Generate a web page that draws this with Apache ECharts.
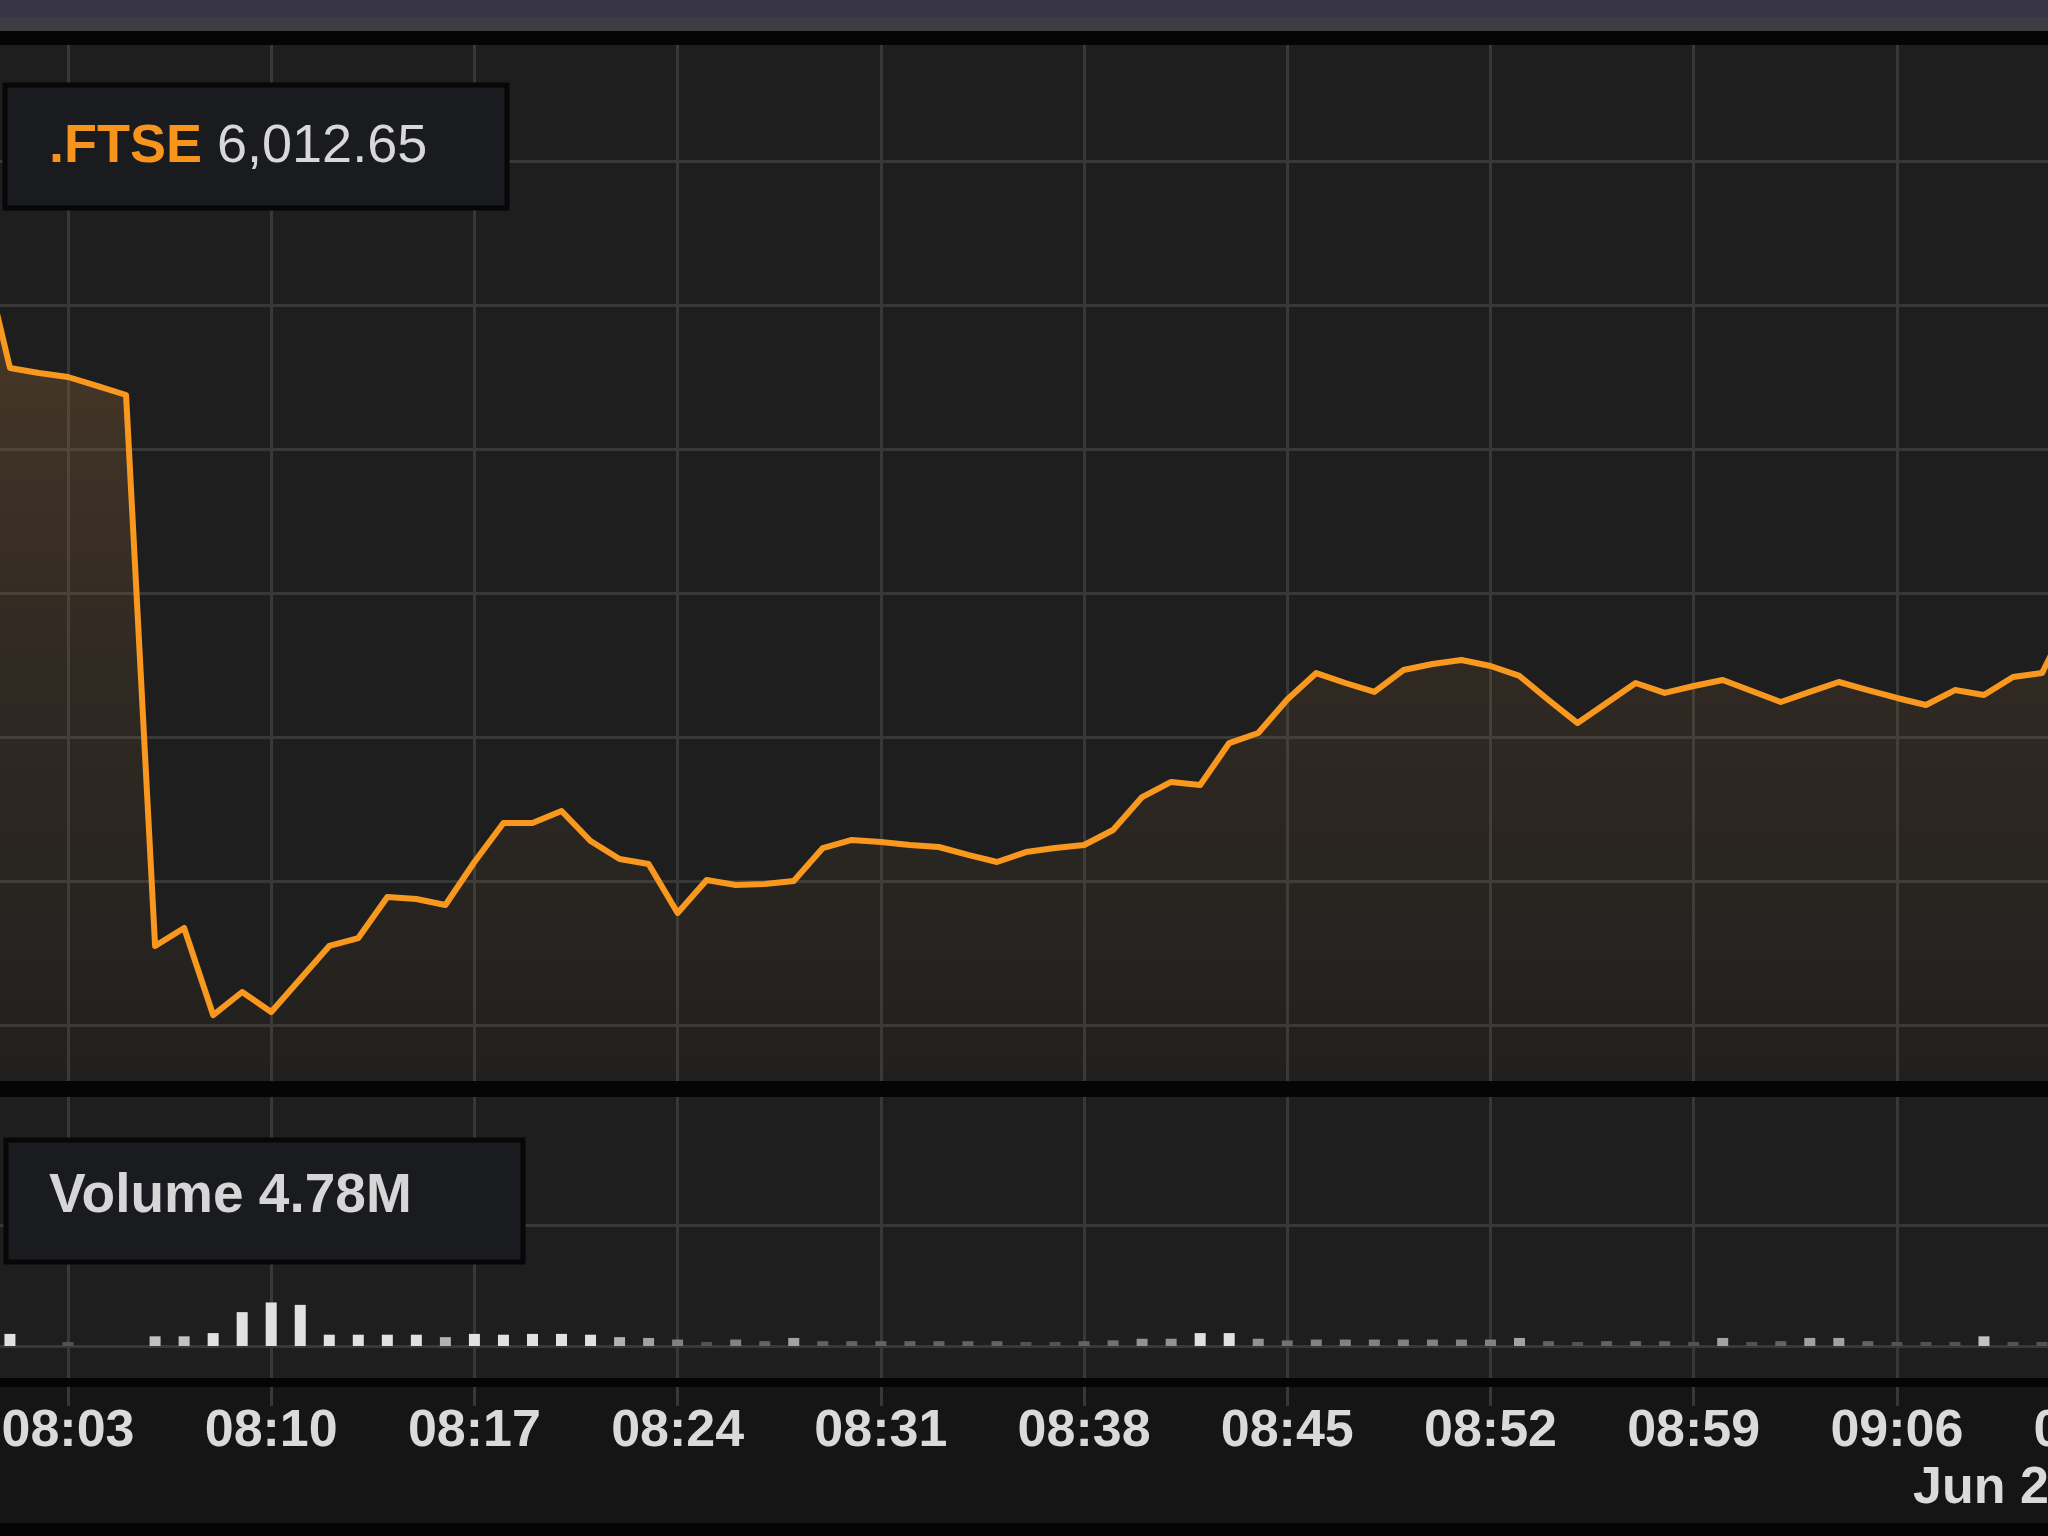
<!DOCTYPE html>
<html>
<head>
<meta charset="utf-8">
<script src="https://cdn.jsdelivr.net/npm/echarts@6/dist/echarts.min.js"></script>
<style>
html,body{margin:0;padding:0;background:#151515;}
#chart{width:2048px;height:1536px;}
</style>
</head>
<body>
<div id="chart"></div>
<script>
// ---------------- DATA ----------------
const times = [
  '08:00','08:01','08:02','08:03','08:04','08:05','08:06','08:07','08:08','08:09',
  '08:10','08:11','08:12','08:13','08:14','08:15','08:16','08:17','08:18','08:19',
  '08:20','08:21','08:22','08:23','08:24','08:25','08:26','08:27','08:28','08:29',
  '08:30','08:31','08:32','08:33','08:34','08:35','08:36','08:37','08:38','08:39',
  '08:40','08:41','08:42','08:43','08:44','08:45','08:46','08:47','08:48','08:49',
  '08:50','08:51','08:52','08:53','08:54','08:55','08:56','08:57','08:58','08:59',
  '09:00','09:01','09:02','09:03','09:04','09:05','09:06','09:07','09:08','09:09',
  '09:10','09:11','09:12'
];
const prices = [
  6241.0, 6156.3, 6152.8, 6150.0, 6143.8, 6137.5, 5754.9, 5767.4, 5706.9, 5722.9,
  5709.0, 5731.9, 5754.9, 5760.4, 5788.9, 5787.5, 5783.3, 5813.2, 5840.3, 5840.3,
  5848.6, 5827.8, 5815.3, 5811.8, 5777.8, 5800.7, 5797.2, 5797.9, 5800.0, 5822.9,
  5828.5, 5827.1, 5825.0, 5823.6, 5818.1, 5813.2, 5820.1, 5822.9, 5825.0, 5835.4,
  5858.3, 5868.8, 5866.7, 5895.8, 5902.8, 5926.0, 5944.4, 5937.5, 5931.3, 5946.5,
  5950.7, 5953.5, 5949.3, 5942.4, 5925.7, 5909.7, 5923.6, 5937.5, 5930.6, 5935.4,
  5939.6, 5931.9, 5924.3, 5931.3, 5938.2, 5932.6, 5927.1, 5922.2, 5932.6, 5929.2,
  5941.7, 5944.4, 5984.7
];
// volume per minute, millions of shares (null = no print)
const volumes = [
  null, 1.5, null, 0.5, null, null, 1.2, 1.2, 1.6, 4.2,
  5.4, 5.1, 1.4, 1.4, 1.4, 1.4, 1.1, 1.5, 1.4, 1.5,
  1.5, 1.4, 1.1, 1.0, 0.8, 0.5, 0.8, 0.6, 1.0, 0.6,
  0.6, 0.6, 0.6, 0.6, 0.6, 0.6, 0.5, 0.5, 0.6, 0.7,
  0.9, 0.9, 1.6, 1.6, 0.9, 0.7, 0.8, 0.8, 0.8, 0.8,
  0.8, 0.8, 0.8, 1.0, 0.6, 0.5, 0.6, 0.6, 0.6, 0.5,
  1.0, 0.5, 0.6, 1.0, 1.0, 0.6, 0.5, 0.5, 0.5, 1.2,
  0.5, 0.5, null
];
const tickLabels = ['08:03','08:10','08:17','08:24','08:31','08:38','08:45','08:52','08:59','09:06','09:13'];
const dateLabel = 'Jun 24';
const symbolName = '.FTSE';
const lastPrice = '6,012.65';
const volumeName = 'Volume';
const lastVolume = '4.78M';
const priceGrid = { min: 5700, max: 6300, step: 100 };
const volumeGrid = { min: 0, max: 15, step: 15 };

// ---------------- LAYOUT ----------------
const W = 2048;
const toMin = t => { const [h, m] = t.split(':').map(Number); return (h - 8) * 60 + m; };
const tickMin = toMin(tickLabels[0]);
const tickMax = toMin(tickLabels[tickLabels.length - 1]);
const tickStep = toMin(tickLabels[1]) - tickMin;
const FIRST_TICK_X = 68;
const PX_PER_MIN = 29.03;
const X0 = tickMin - FIRST_TICK_X / PX_PER_MIN;
const X1 = X0 + W / PX_PER_MIN;
const vGridWidth = (tickMax - tickMin) * PX_PER_MIN;

// price panel
const PANEL_TOP = 45, PANEL_BOTTOM = 1081;
const HGRID_TOP = 161, HGRID_BOTTOM = 1025;
const PX_PER_PT = (HGRID_BOTTOM - HGRID_TOP) / (priceGrid.max - priceGrid.min);
const P0 = priceGrid.min - (PANEL_BOTTOM - HGRID_BOTTOM) / PX_PER_PT;
const P1 = priceGrid.max + (HGRID_TOP - PANEL_TOP) / PX_PER_PT;

// volume panel
const VPANEL_TOP = 1097, VPANEL_BOTTOM = 1378;
const VGRID_TOP = 1225, VGRID_BOTTOM = 1346;

const FONT = '"Liberation Sans", Arial, Helvetica, sans-serif';
const GRID_COLOR = '#383838';
const LINE_COLOR = '#f8981f';

const priceData = times.map((t, i) => [toMin(t), prices[i]]);
const volumeData = times.map((t, i) => [toMin(t), volumes[i]]);

const chart = echarts.init(document.getElementById('chart'), null, { renderer: 'canvas' });

const hiddenAxis = (gi, min, max) => ({ gridIndex: gi, type: 'value', min, max, show: false });
const gridBase = { outerBoundsMode: 'none', containLabel: false };

const option = {
  animation: false,
  backgroundColor: '#151515',
  grid: [
    Object.assign({ left: 0, width: W, top: PANEL_TOP, height: PANEL_BOTTOM - PANEL_TOP }, gridBase),
    Object.assign({ left: 0, width: W, top: HGRID_TOP, height: HGRID_BOTTOM - HGRID_TOP }, gridBase),
    Object.assign({ left: FIRST_TICK_X, width: vGridWidth, top: PANEL_TOP, height: VPANEL_BOTTOM - PANEL_TOP }, gridBase),
    Object.assign({ left: 0, width: W, top: VGRID_TOP, height: VGRID_BOTTOM - VGRID_TOP }, gridBase)
  ],
  xAxis: [
    hiddenAxis(0, X0, X1),
    hiddenAxis(1, X0, X1),
    {
      gridIndex: 2, type: 'value', min: tickMin, max: tickMax, interval: tickStep,
      axisLine: { show: false },
      axisTick: { show: true, length: 28, lineStyle: { color: GRID_COLOR, width: 3 } },
      splitLine: { show: true, lineStyle: { color: GRID_COLOR, width: 3 } },
      axisLabel: {
        show: true, showMinLabel: true, showMaxLabel: true, hideOverlap: false,
        margin: 28, color: '#dadada', fontSize: 52, fontWeight: 'bold', fontFamily: FONT,
        formatter: v => {
          const i = tickLabels.findIndex(l => toMin(l) === Math.round(v));
          return i >= 0 ? tickLabels[i] : '';
        }
      }
    },
    hiddenAxis(3, X0, X1)
  ],
  yAxis: [
    hiddenAxis(0, P0, P1),
    {
      gridIndex: 1, type: 'value', min: priceGrid.min, max: priceGrid.max, interval: priceGrid.step,
      axisLine: { show: false }, axisTick: { show: false }, axisLabel: { show: false },
      splitLine: { show: true, lineStyle: { color: GRID_COLOR, width: 3 } }
    },
    hiddenAxis(2, 0, 1),
    {
      gridIndex: 3, type: 'value', min: volumeGrid.min, max: volumeGrid.max, interval: volumeGrid.step,
      axisLine: { show: false }, axisTick: { show: false }, axisLabel: { show: false },
      splitLine: { show: true, lineStyle: { color: GRID_COLOR, width: 3 } }
    }
  ],
  series: [
    {
      type: 'line', xAxisIndex: 0, yAxisIndex: 0, data: priceData,
      showSymbol: false, symbol: 'none', clip: true,
      lineStyle: { color: LINE_COLOR, width: 6, join: 'round', cap: 'round' },
      areaStyle: {
        origin: 'start',
        color: new echarts.graphic.LinearGradient(0, 0, 0, 1, [
          { offset: 0, color: 'rgba(160,110,60,0.50)' },
          { offset: 0.5, color: 'rgba(150,105,60,0.22)' },
          { offset: 1, color: 'rgba(150,105,60,0.04)' }
        ])
      },
      z: 3
    },
    {
      type: 'bar', xAxisIndex: 3, yAxisIndex: 3, data: volumeData,
      barWidth: 11, clip: true,
      itemStyle: {
        color: p => {
          const v = p.value[1];
          const t = Math.min(1, Math.max(0, (v - 0.45) / (1.4 - 0.45)));
          const g = Math.round(75 + t * (225 - 75));
          return 'rgb(' + g + ',' + g + ',' + g + ')';
        }
      },
      z: 3
    }
  ],
  graphic: [
    { type: 'rect', z: -10, silent: true, shape: { x: 0, y: PANEL_TOP, width: W, height: PANEL_BOTTOM - PANEL_TOP }, style: { fill: '#1e1e1e' } },
    { type: 'rect', z: -10, silent: true, shape: { x: 0, y: VPANEL_TOP, width: W, height: VPANEL_BOTTOM - VPANEL_TOP }, style: { fill: '#1e1e1e' } },
    { type: 'rect', z: 50, silent: true, shape: { x: 0, y: 0, width: W, height: 17 }, style: { fill: '#383646' } },
    { type: 'rect', z: 50, silent: true, shape: { x: 0, y: 17, width: W, height: 14 }, style: { fill: '#3c3c41' } },
    { type: 'rect', z: 50, silent: true, shape: { x: 0, y: 31, width: W, height: PANEL_TOP - 31 }, style: { fill: '#050505' } },
    { type: 'rect', z: 50, silent: true, shape: { x: 0, y: PANEL_BOTTOM, width: W, height: VPANEL_TOP - PANEL_BOTTOM }, style: { fill: '#050505' } },
    { type: 'rect', z: 50, silent: true, shape: { x: 0, y: VPANEL_BOTTOM, width: W, height: 9 }, style: { fill: '#050505' } },
    { type: 'rect', z: 50, silent: true, shape: { x: 0, y: 1523, width: W, height: 13 }, style: { fill: '#050505' } },
    { type: 'rect', z: 60, silent: true, shape: { x: 5, y: 85, width: 502, height: 123 }, style: { fill: '#1a1b1f', stroke: '#070707', lineWidth: 5 } },
    {
      type: 'text', z: 61, silent: true, x: 49, y: 147,
      style: {
        text: '{s|' + symbolName + '} {v|' + lastPrice + '}',
        verticalAlign: 'middle', fontFamily: FONT, fontSize: 54, fill: '#d8d8d8',
        rich: {
          s: { fill: '#f7941d', fontSize: 54, fontWeight: 'bold', fontFamily: FONT },
          v: { fill: '#d8d8d8', fontSize: 54, fontWeight: 'normal', fontFamily: FONT }
        }
      }
    },
    { type: 'rect', z: 60, silent: true, shape: { x: 6, y: 1140, width: 517, height: 122 }, style: { fill: '#1a1b1f', stroke: '#070707', lineWidth: 5 } },
    {
      type: 'text', z: 61, silent: true, x: 49, y: 1197,
      style: {
        text: volumeName + ' ' + lastVolume, verticalAlign: 'middle',
        fontFamily: FONT, fontSize: 55, fontWeight: 'bold', fill: '#d6d6d6'
      }
    },
    {
      type: 'text', z: 61, silent: true, x: 1913, y: 1489,
      style: { text: dateLabel, verticalAlign: 'middle', fontFamily: FONT, fontSize: 52, fontWeight: 'bold', fill: '#dadada' }
    }
  ]
};
chart.setOption(option);
</script>
</body>
</html>
